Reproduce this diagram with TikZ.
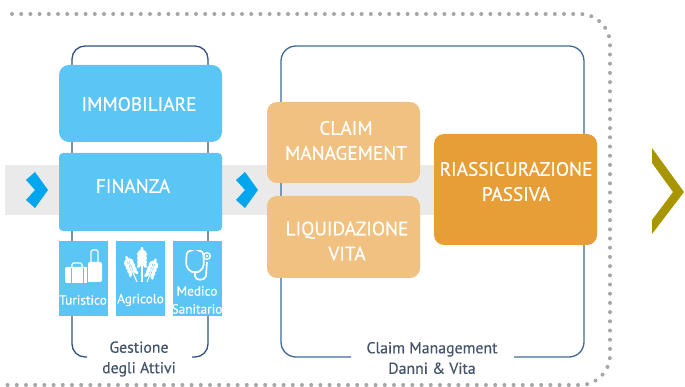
\documentclass[tikz,border=0pt]{standalone}
\usepackage{fontspec}
\setmainfont{PT Sans}
\newfontfamily\capfont[FakeBold=0.4]{PT Sans}
\usetikzlibrary{positioning}
\definecolor{skyblue}{HTML}{5BC5F5}
\definecolor{arrowblue}{HTML}{00A7EE}
\definecolor{paleorange}{HTML}{F1C181}
\definecolor{deeporange}{HTML}{E89E37}
\definecolor{bandgray}{HTML}{EAEAEA}
\definecolor{dotgray}{HTML}{A6A6A6}
\definecolor{framenavy}{HTML}{2F5283}
\definecolor{framesteel}{HTML}{3F6A9A}
\definecolor{captionslate}{HTML}{44546A}
\definecolor{olivearrow}{HTML}{A89600}
\tikzset{
  box/.style={rounded corners=#1, inner sep=0pt, outer sep=0pt},
  box/.default=10pt,
  boxtxt/.style={text=white, align=center, font=\capfont\fontsize{19.3}{25}\selectfont, inner sep=0pt},
  icontxt/.style={text=white, align=center, font=\capfont\fontsize{13.3}{18}\selectfont, inner sep=0pt},
  captiontxt/.style={text=captionslate, align=center, font=\capfont\fontsize{15.8}{20.5}\selectfont, inner sep=0pt, fill=white},
  chevron/.style={fill=arrowblue},
}
\begin{document}
\begin{tikzpicture}[x=1pt,y=-1pt]
\useasboundingbox (0,0) rectangle (685,387);

\fill[bandgray] (5,165) rectangle (436,215);

% frames
\draw[framenavy, line width=1.3pt, rounded corners=13pt] (87,357) -- (72,357) -- (72,46) -- (208,46) -- (208,357) -- (192,357);
\draw[framesteel, line width=1.3pt, rounded corners=15pt] (351,357) -- (281,357) -- (281,46) -- (584,46) -- (584,357) -- (514,357);

% dots all round
\draw[dotgray, line width=4pt, line cap=round, dash pattern=on 0pt off 9.2pt, rounded corners=30pt]
  (12,14) -- (610,14) -- (610,385) -- (0,385);

% left column
\node[box, fill=skyblue, minimum width=163pt, minimum height=77pt] (immobiliare) at (140.5,103.5) {};
\node[box=4pt, fill=skyblue, minimum width=163pt, minimum height=78pt] (finanza) at (140.5,192) {};
\node[boxtxt] (immobiliaretxt) at (139,104) {IMMOBILIARE};
\node[boxtxt] (finanzatxt) at (133,186) {FINANZA};

\foreach \name/\x in {turistico/83.5, agricolo/140.5, medico/197.5}
  \node[fill=skyblue, minimum width=49pt, minimum height=75pt, inner sep=0pt] (\name) at (\x,278.5) {};
\node[icontxt] (turisticotxt) at (83,300) {Turistico};
\node[icontxt] (agricolotxt) at (140.5,300) {Agricolo};
\node[icontxt] (medicotxt) at (197,300) {Medico\\Sanitario};

% suitcases
\fill[white, rounded corners=2pt] (65,267) rectangle (89,283);
\draw[white, line width=1.3pt, rounded corners=1.5pt] (72,267) -- (72,263) -- (82,263) -- (82,267);
\fill[white, rounded corners=2pt] (88,262) rectangle (102,282);
\draw[white, line width=1.3pt, rounded corners=1.5pt] (91,262) -- (91,250) -- (98,250) -- (98,262);
\draw[skyblue, line width=0.8pt] (71,268) -- (71,283) (83,268) -- (83,283);
\draw[skyblue, line width=0.8pt] (87.5,262) -- (87.5,283);

% wheat
\foreach \xa/\ya/\ang/\len in {142/282/0/32, 137/282/23/25, 147/282/-21/22} {
  \begin{scope}[shift={(\xa,\ya)}, rotate=\ang]
    \draw[white, line width=1.1pt] (0,0) -- (0,-\len+3);
    \fill[white] (0,-\len) ellipse (1.5pt and 3.2pt);
    \foreach \k in {3,4,5,6} {
      \fill[white, rotate around={-28:(-2.8,-\len+\k*4-9)}] (-2.8,-\len+\k*4-9) ellipse (1.7pt and 3.2pt);
      \fill[white, rotate around={28:(2.8,-\len+\k*4-9)}] (2.8,-\len+\k*4-9) ellipse (1.7pt and 3.2pt);
    }
  \end{scope}
}

% stethoscope
\draw[white, line width=1.7pt, rounded corners=3pt] (189,251) -- (187,251) -- (186,262) .. controls (187,270) and (193,272) .. (195,272) .. controls (198,272) and (203,270) .. (204,262) -- (203,251) -- (201,251);
\draw[white, line width=1.7pt] (195,272) -- (195,276) .. controls (195,281) and (205,281) .. (206,276) -- (207,262);
\draw[white, line width=1.3pt] (207,256) circle (3.4pt);
\fill[white] (207,256) circle (1.4pt);

% middle column
\node[box, fill=paleorange, minimum width=153pt, minimum height=81pt] (claim) at (343.5,142.5) {};
\node[box, fill=paleorange, minimum width=153pt, minimum height=82pt] (liquidazione) at (343.5,237) {};
\node[box, fill=deeporange, minimum width=163pt, minimum height=111pt] (riassicurazione) at (515.5,189.5) {};
\node[boxtxt] (claimtxt) at (346,140.5) {CLAIM\\MANAGEMENT};
\node[boxtxt] (liquidazionetxt) at (347,241) {LIQUIDAZIONE\\VITA};
\node[boxtxt] (riassicurazionetxt) at (516,181.5) {RIASSICURAZIONE\\PASSIVA};

% captions
\node[captiontxt] (gestione) at (139,359) {Gestione\\degli Attivi};
\node[captiontxt] (danni) at (432,358) {Claim Management\\Danni \& Vita};

% arrows
\foreach \x in {0,210}
  \fill[chevron, xshift=\x pt] (26,180) -- (35,172) -- (48,190) -- (35,208) -- (26,200) -- (35,190) -- cycle;
\fill[olivearrow] (652,148) -- (684,192) -- (652,234) -- (652,220) -- (673,192) -- (652,163) -- cycle;

\end{tikzpicture}
\end{document}
